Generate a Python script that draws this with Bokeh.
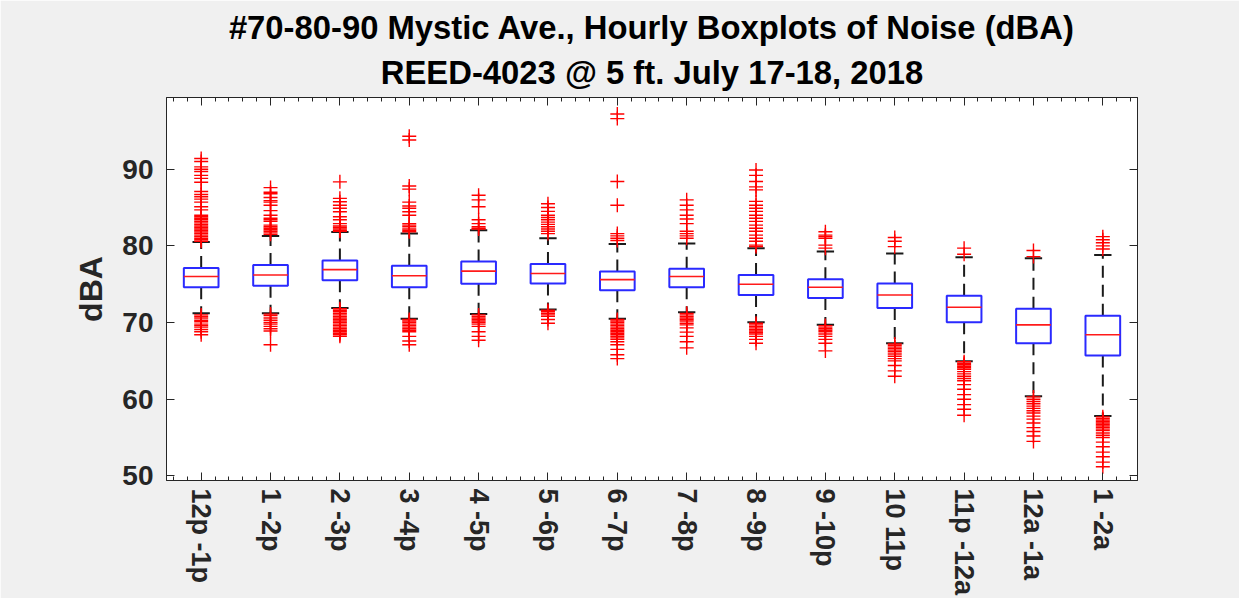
import numpy as np
from bokeh.plotting import figure
from bokeh.models import FixedTicker, LinearAxis, Title, Range1d
from bokeh.embed import file_html
from bokeh.resources import INLINE

# ---------------- data ----------------
hours = ["12p -1p", "1 -2p", "2 -3p", "3 -4p", "4 -5p", "5 -6p", "6 -7p",
         "7 -8p", "8 -9p", "9 -10p", "10 11p", "11p -12a", "12a -1a", "1 -2a"]

q1 = [74.6, 74.8, 75.5, 74.6, 75.05, 75.1, 74.2, 74.6, 73.6, 73.2, 71.9, 70.05, 67.3, 65.7]
median = [76.0, 76.2, 76.9, 76.1, 76.7, 76.4, 75.6, 76.0, 75.0, 74.6, 73.6, 72.0, 69.7, 68.4]
q3 = [77.1, 77.5, 78.1, 77.4, 77.95, 77.65, 76.65, 77.0, 76.2, 75.65, 75.1, 73.5, 71.8, 70.9]
whisker_low = [71.2, 71.2, 71.9, 70.5, 71.1, 71.7, 70.5, 71.35, 70.05, 69.7, 67.3, 64.95, 60.4, 57.8]
whisker_high = [80.5, 81.3, 81.8, 81.6, 82.05, 81.0, 80.25, 80.3, 79.7, 79.25, 79.0, 78.5, 78.4, 78.8]

outliers_high = [
    [91.4, 91.0, 90.3, 90.0, 89.7, 89.2, 88.8, 88.3, 87.1, 86.7, 86.4, 86.1, 85.7, 85.1,
     84.7, 84.0, 83.8, 83.6, 83.4, 83.2, 83.0, 82.8, 82.6, 82.4, 82.2, 82.0, 81.8, 81.6,
     81.4, 81.2, 81.0, 80.8, 80.6],
    [87.6, 87.0, 86.8, 86.3, 85.9, 85.7, 85.3, 84.6, 84.0, 83.6, 83.4, 83.2, 82.7, 82.5,
     82.3, 82.1, 81.9, 81.7, 81.5],
    [88.35, 86.2, 85.75, 85.3, 84.9, 84.45, 83.8, 83.4, 82.9, 82.6, 82.4, 82.2, 82.0, 81.9],
    [94.3, 93.8, 87.8, 87.4, 85.7, 85.2, 84.9, 84.45, 84.0, 82.9, 82.7, 82.5, 82.2, 82.0, 81.85],
    [86.6, 86.0, 85.1, 83.4, 82.9, 82.5, 82.3, 82.2],
    [85.5, 85.0, 84.5, 84.0, 83.7, 83.4, 83.1, 82.8, 82.5, 82.2, 81.9, 81.6],
    [97.2, 96.6, 88.4, 85.3, 81.6, 81.3, 81.0, 80.7],
    [86.0, 85.3, 84.7, 84.0, 83.5, 82.9, 81.9, 81.6, 81.3, 81.0],
    [89.9, 89.2, 88.4, 87.7, 87.3, 85.8, 85.3, 84.9, 84.5, 84.0, 83.6, 83.2, 82.7, 82.3,
     81.9, 81.4, 81.0, 80.6, 80.1, 79.9],
    [81.85, 81.4, 81.2, 81.0, 80.1, 79.7],
    [81.1, 80.6, 79.9],
    [79.7, 78.9],
    [79.4, 78.6],
    [81.2, 80.8, 80.4, 80.0, 79.6],
]

outliers_low = [
    [71.0, 70.8, 70.6, 70.3, 70.1, 69.8, 69.6, 69.4, 69.1, 68.8, 68.4],
    [71.1, 70.9, 70.6, 70.3, 70.0, 69.8, 69.5, 69.2, 68.9, 67.1],
    [71.8, 71.6, 71.4, 71.2, 71.0, 70.8, 70.6, 70.4, 70.2, 70.0, 69.8, 69.6, 69.4, 69.2,
     69.0, 68.8, 68.6, 68.4, 68.2],
    [70.4, 70.2, 70.0, 69.8, 69.6, 69.4, 69.2, 69.0, 68.8, 68.2, 67.6, 67.1],
    [71.0, 70.8, 70.6, 70.4, 70.2, 70.0, 69.8, 69.5, 68.8, 68.2, 67.7],
    [71.6, 71.4, 71.2, 71.0, 70.8, 70.4, 69.9],
    [70.4, 70.2, 70.0, 69.8, 69.6, 69.4, 69.2, 69.0, 68.8, 68.6, 68.4, 68.2, 68.0, 67.8,
     67.5, 67.1, 66.5, 65.8, 65.3],
    [71.2, 71.0, 70.8, 70.6, 70.4, 70.2, 69.9, 69.7, 69.3, 68.75, 68.2, 67.5, 66.7],
    [69.9, 69.7, 69.5, 69.3, 69.1, 68.9, 68.7, 68.5, 68.2, 67.8, 67.3],
    [69.6, 69.4, 69.2, 69.0, 68.8, 68.5, 68.2, 67.8, 67.3, 66.3],
    [67.2, 67.0, 66.8, 66.6, 66.4, 66.2, 65.9, 65.6, 65.3, 65.0, 64.4, 63.7, 63.0],
    [64.9, 64.7, 64.5, 64.3, 64.1, 63.9, 63.6, 63.3, 63.0, 62.7, 62.4, 61.9, 61.3, 60.6,
     60.0, 59.3, 58.7, 57.9],
    [60.3, 60.0, 59.7, 59.4, 59.1, 58.8, 58.5, 58.2, 57.8, 57.4, 56.9, 56.3, 55.8, 55.2, 54.5],
    [57.7, 57.5, 57.3, 57.1, 56.9, 56.7, 56.5, 56.3, 56.1, 55.9, 55.6, 55.3, 55.0, 54.4,
     53.8, 53.1, 52.5, 51.8, 51.2],
]

y_ticks = [50, 60, 70, 80, 90]

title_line1 = "#70-80-90 Mystic Ave., Hourly Boxplots of Noise (dBA)"
title_line2 = "REED-4023 @ 5 ft. July 17-18, 2018"
y_label = "dBA"

# ---------------- derived ----------------
x = np.arange(1, len(hours) + 1, dtype=float)
box_half = 0.25
cap_half = 0.125
out_x = [float(i + 1) for i, vals in enumerate(outliers_high) for _ in vals] + \
        [float(i + 1) for i, vals in enumerate(outliers_low) for _ in vals]
out_y = [v for vals in outliers_high for v in vals] + [v for vals in outliers_low for v in vals]

FONT = "Liberation Sans"
AX_COL = "#262626"

p = figure(width=1239, height=598, output_backend="svg", toolbar_location=None,
           title_location=None,
           x_range=Range1d(0.5, len(hours) + 0.5), y_range=Range1d(49.4, 99.35),
           min_border_left=166, min_border_right=102, min_border_top=97, min_border_bottom=116)

p.background_fill_color = "white"
p.border_fill_color = "#f0f0f0"
p.outline_line_color = AX_COL
p.outline_line_width = 1
p.xgrid.visible = False
p.ygrid.visible = False

# whiskers (dashed)
p.segment(x0=x, y0=q3, x1=x, y1=whisker_high, line_color="#1a1a1a", line_width=2, line_dash="12 7")
p.segment(x0=x, y0=q1, x1=x, y1=whisker_low, line_color="#1a1a1a", line_width=2, line_dash="12 7")
# caps
p.segment(x0=x - cap_half, y0=whisker_high, x1=x + cap_half, y1=whisker_high, line_color="#1a1a1a", line_width=2)
p.segment(x0=x - cap_half, y0=whisker_low, x1=x + cap_half, y1=whisker_low, line_color="#1a1a1a", line_width=2)
# boxes
p.quad(left=x - box_half, right=x + box_half, bottom=q1, top=q3,
       fill_color="white", line_color="#2a2aff", line_width=2)
# medians
p.segment(x0=x - box_half, y0=median, x1=x + box_half, y1=median, line_color="#ff1a1a", line_width=1.6)
# outliers
p.scatter(out_x, out_y, marker="cross", size=14, line_color="#ff0000", line_width=1.4)

# ---------------- axes ----------------
minor = [round(v, 2) for v in np.arange(0.6, len(hours) + 0.45, 0.2)]
xt = FixedTicker(ticks=list(x), minor_ticks=minor)
yt = FixedTicker(ticks=y_ticks, minor_ticks=[])

def style_axis(ax):
    ax.axis_line_color = AX_COL
    ax.major_tick_line_color = AX_COL
    ax.minor_tick_line_color = AX_COL
    ax.major_tick_in = 8
    ax.major_tick_out = 0
    ax.minor_tick_in = 4
    ax.minor_tick_out = 0
    ax.major_label_text_font = FONT
    ax.major_label_text_font_style = "bold"
    ax.major_label_text_color = AX_COL

xa = p.xaxis[0]
xa.ticker = xt
style_axis(xa)
xa.major_label_overrides = {int(i): lab for i, lab in zip(x, hours)}
xa.major_label_orientation = "vertical"
xa.major_label_text_font_size = "27px"
xa.major_label_standoff = 8

ya = p.yaxis[0]
ya.ticker = yt
style_axis(ya)
ya.major_label_text_font_size = "28px"
ya.major_label_standoff = 13
ya.axis_label = y_label
ya.axis_label_text_font = FONT
ya.axis_label_text_font_style = "bold"
ya.axis_label_text_font_size = "32px"
ya.axis_label_text_color = AX_COL
ya.axis_label_standoff = 10

# mirrored tick-only axes (top / right), labels not painted
top = LinearAxis(ticker=xt)
style_axis(top)
top.major_label_text_color = None
top.major_label_text_font_size = "1px"
top.major_label_standoff = 0
p.add_layout(top, "above")
right = LinearAxis(ticker=yt)
style_axis(right)
right.major_label_text_color = None
right.major_label_text_font_size = "1px"
right.major_label_standoff = 0
p.add_layout(right, "right")

t2 = Title(text=title_line2, align="center", text_font=FONT, text_font_style="bold",
           text_font_size="32.8px", text_color="black", standoff=13)
t1 = Title(text=title_line1, align="center", text_font=FONT, text_font_style="bold",
           text_font_size="32.8px", text_color="black", standoff=0)
p.add_layout(t2, "above")
p.add_layout(t1, "above")

open("out.html", "w").write(file_html(p, INLINE))
